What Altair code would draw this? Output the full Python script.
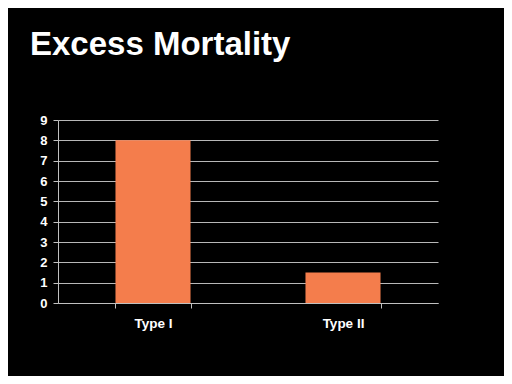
import altair as alt
import pandas as pd

categories = ["Type I", "Type II"]
values = [8.0, 1.5]

df = pd.DataFrame({"type": categories, "value": values})

chart = alt.Chart(df).mark_bar(color="#F47D4C").encode(
    x=alt.X("type:N", sort=categories, title=None,
            scale=alt.Scale(paddingInner=0.605, paddingOuter=0.3025),
            axis=alt.Axis(labelAngle=0, labelColor="white", labelFont="Liberation Sans",
                          labelFontWeight="bold", labelFontSize=13.5, labelPadding=8,
                          tickBand="extent", tickSize=5, tickColor="#c0c0c0",
                          domainColor="#c0c0c0", grid=False)),
    y=alt.Y("value:Q", title=None,
            scale=alt.Scale(domain=[0, 9], nice=False),
            axis=alt.Axis(values=list(range(10)), labelColor="white", labelFont="Liberation Sans",
                          labelFontWeight="bold", labelFontSize=13, labelPadding=6,
                          tickSize=5, tickColor="#c0c0c0", domainColor="#c0c0c0",
                          gridColor="#b8b8b8", gridWidth=1)),
).properties(
    width=380, height=183,
    title=alt.TitleParams("Excess Mortality", anchor="start", frame="group", dx=-28,
                          color="white", font="Liberation Sans", fontWeight="bold",
                          fontSize=33, baseline="alphabetic", offset=26),
    autosize=alt.AutoSizeParams(type="none"),
    padding={"left": 50, "top": 112, "right": 66, "bottom": 73},
).configure(background="black").configure_view(stroke=None)

chart.save("out.html", embed_options={"renderer": "svg", "actions": False})
